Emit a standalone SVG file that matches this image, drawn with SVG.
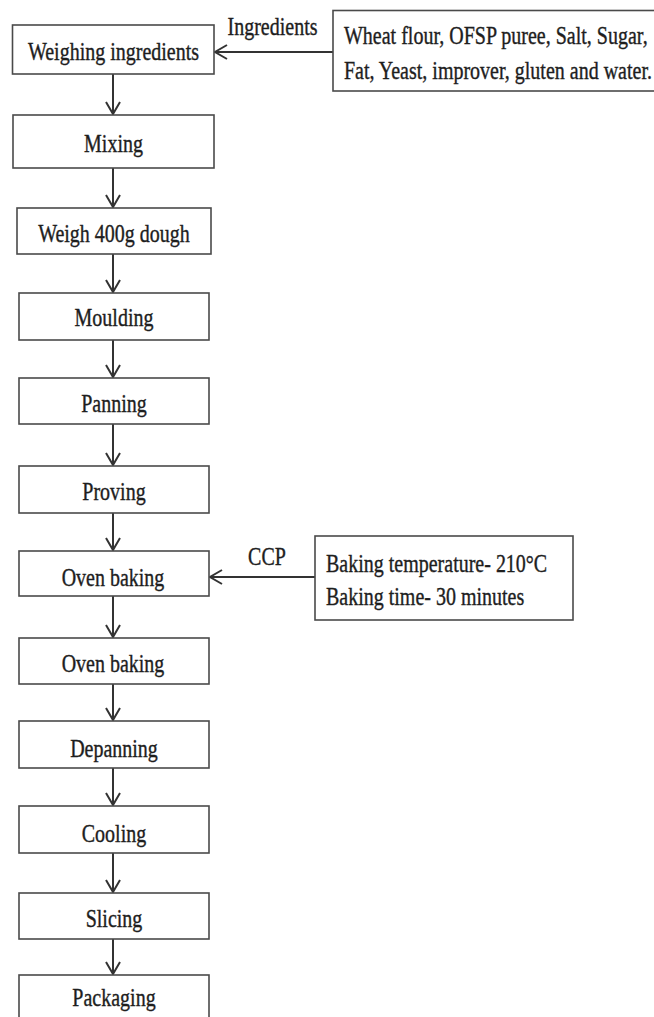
<svg xmlns="http://www.w3.org/2000/svg" width="654" height="1017" viewBox="0 0 654 1017">
<style>
  .box { fill: #ffffff; stroke: #4a4a4a; stroke-width: 1.6; }
  .t { font-family: "Liberation Serif", "Times New Roman", serif; font-size: 20px; fill: #1e1e1e; stroke: #1e1e1e; stroke-width: 0.3; }
  .c { text-anchor: middle; }
  .conn { stroke: #333333; stroke-width: 2; fill: none; }
</style>
<defs>
  <marker id="arr" markerUnits="userSpaceOnUse" markerWidth="16" markerHeight="18" refX="13" refY="8" orient="auto">
    <path d="M1,1 L13,8 L1,15" fill="none" stroke="#333333" stroke-width="2"/>
  </marker>
</defs>
<rect width="654" height="1017" fill="#ffffff"/>

<g id="connectors">
  <line class="conn" x1="113" y1="74" x2="113" y2="114" marker-end="url(#arr)"/>
  <line class="conn" x1="113" y1="168" x2="113" y2="207" marker-end="url(#arr)"/>
  <line class="conn" x1="113" y1="254" x2="113" y2="292" marker-end="url(#arr)"/>
  <line class="conn" x1="113" y1="340" x2="113" y2="377" marker-end="url(#arr)"/>
  <line class="conn" x1="113" y1="424" x2="113" y2="465" marker-end="url(#arr)"/>
  <line class="conn" x1="113" y1="513" x2="113" y2="550" marker-end="url(#arr)"/>
  <line class="conn" x1="113" y1="596" x2="113" y2="637" marker-end="url(#arr)"/>
  <line class="conn" x1="113" y1="684" x2="113" y2="720" marker-end="url(#arr)"/>
  <line class="conn" x1="113" y1="768" x2="113" y2="805" marker-end="url(#arr)"/>
  <line class="conn" x1="113" y1="853" x2="113" y2="892" marker-end="url(#arr)"/>
  <line class="conn" x1="113" y1="939" x2="113" y2="974" marker-end="url(#arr)"/>
  <line class="conn" x1="333" y1="52" x2="215" y2="52" marker-end="url(#arr)"/>
  <text class="t c" transform="translate(272.5,35) scale(1,1.3)">Ingredients</text>
  <line class="conn" x1="315" y1="577" x2="210" y2="577" marker-end="url(#arr)"/>
  <text class="t c" transform="translate(267,565) scale(1,1.3)">CCP</text>
</g>

<g id="n-weighing">
  <rect class="box" x="12.5" y="25" width="201.5" height="49"/>
  <text class="t c" transform="translate(113.5,60) scale(1,1.3)">Weighing ingredients</text>
</g>
<g id="n-ingredients">
  <rect class="box" x="333" y="10.5" width="324" height="80.5"/>
  <text class="t" transform="translate(344,44) scale(1,1.3)">Wheat flour, OFSP puree, Salt, Sugar,</text>
  <text class="t" transform="translate(344,79) scale(1,1.3)">Fat, Yeast, improver, gluten and water.</text>
</g>
<g id="n-mixing">
  <rect class="box" x="13" y="115" width="201" height="53"/>
  <text class="t c" transform="translate(113.5,152) scale(1,1.3)">Mixing</text>
</g>
<g id="n-weigh400">
  <rect class="box" x="17" y="208" width="194" height="46"/>
  <text class="t c" transform="translate(114,242) scale(1,1.3)">Weigh 400g dough</text>
</g>
<g id="n-moulding">
  <rect class="box" x="19" y="293" width="190" height="47"/>
  <text class="t c" transform="translate(114,326) scale(1,1.3)">Moulding</text>
</g>
<g id="n-panning">
  <rect class="box" x="19" y="378" width="190" height="46"/>
  <text class="t c" transform="translate(114,412) scale(1,1.3)">Panning</text>
</g>
<g id="n-proving">
  <rect class="box" x="19" y="466" width="190" height="47"/>
  <text class="t c" transform="translate(114,500) scale(1,1.3)">Proving</text>
</g>
<g id="n-oven1">
  <rect class="box" x="19" y="551" width="190" height="45"/>
  <text class="t c" transform="translate(113,586) scale(1,1.3)">Oven baking</text>
</g>
<g id="n-ccp">
  <rect class="box" x="315" y="536" width="258" height="84"/>
  <text class="t" transform="translate(326,572) scale(1,1.3)">Baking temperature- 210°C</text>
  <text class="t" transform="translate(326,605) scale(1,1.3)">Baking time- 30 minutes</text>
</g>
<g id="n-oven2">
  <rect class="box" x="19" y="638" width="190" height="46"/>
  <text class="t c" transform="translate(113,672) scale(1,1.3)">Oven baking</text>
</g>
<g id="n-depanning">
  <rect class="box" x="19" y="721" width="190" height="47"/>
  <text class="t c" transform="translate(114,757) scale(1,1.3)">Depanning</text>
</g>
<g id="n-cooling">
  <rect class="box" x="19" y="806" width="190" height="47"/>
  <text class="t c" transform="translate(114,842) scale(1,1.3)">Cooling</text>
</g>
<g id="n-slicing">
  <rect class="box" x="19" y="893" width="190" height="46"/>
  <text class="t c" transform="translate(114,927) scale(1,1.3)">Slicing</text>
</g>
<g id="n-packaging">
  <rect class="box" x="19" y="975" width="190" height="50"/>
  <text class="t c" transform="translate(114,1006) scale(1,1.3)">Packaging</text>
</g>
</svg>
